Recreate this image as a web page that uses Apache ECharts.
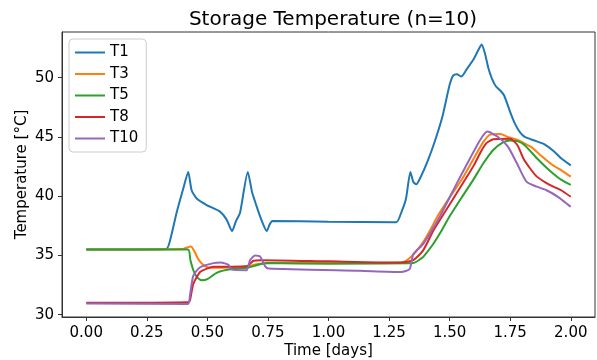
<!DOCTYPE html>
<html>
<head>
<meta charset="utf-8">
<script src="https://cdn.jsdelivr.net/npm/echarts@6/dist/echarts.min.js"></script>
<style>
  html, body { margin: 0; padding: 0; background: #fff; }
  #chart { width: 597px; height: 360px; }
</style>
</head>
<body>
<div id="chart"></div>
<script>
// data
var t1Time = [0, 0.33, 0.35, 0.373, 0.40, 0.421, 0.435, 0.456, 0.497, 0.552, 0.58, 0.602, 0.618, 0.635, 0.667, 0.685, 0.704, 0.725, 0.745, 0.757, 0.768, 1.0, 1.28, 1.30, 1.32, 1.338, 1.35, 1.362, 1.38, 1.41, 1.44, 1.47, 1.50, 1.515, 1.53, 1.548, 1.57, 1.60, 1.62, 1.632, 1.645, 1.66, 1.675, 1.69, 1.71, 1.725, 1.75, 1.77, 1.79, 1.81, 1.85, 1.89, 1.93, 1.96, 2.0];
var t1Temp = [35.5, 35.55, 36.6, 38.6, 40.6, 42.05, 40.5, 39.8, 39.25, 38.7, 38.0, 37.05, 37.9, 38.6, 42.05, 40.3, 39.1, 37.9, 37.05, 37.6, 37.9, 37.85, 37.8, 38.6, 39.8, 42.05, 41.2, 41.0, 41.6, 43.0, 44.7, 46.7, 49.4, 50.2, 50.3, 50.1, 50.7, 51.6, 52.4, 52.8, 52.1, 50.8, 49.9, 49.3, 48.9, 48.5, 47.1, 46.1, 45.4, 45.0, 44.7, 44.4, 43.8, 43.2, 42.6];

var t3Time = [0, 0.40, 0.42, 0.432, 0.445, 0.465, 0.49, 0.52, 0.56, 0.6, 0.65, 0.67, 0.69, 0.72, 0.75, 1.0, 1.3, 1.33, 1.36, 1.39, 1.419, 1.45, 1.5, 1.55, 1.6, 1.64, 1.667, 1.71, 1.74, 1.78, 1.804, 1.84, 1.873, 1.92, 1.96, 2.0];
var t3Temp = [35.5, 35.55, 35.7, 35.75, 35.4, 34.6, 34.1, 33.95, 33.95, 34.0, 34.0, 34.05, 34.2, 34.3, 34.35, 34.35, 34.4, 34.7, 35.3, 36.1, 37.1, 38.3, 39.9, 41.4, 43.2, 44.6, 45.2, 45.25, 45.0, 44.75, 44.5, 44.1, 43.5, 42.7, 42.2, 41.65];

var t5Time = [0, 0.42, 0.43, 0.445, 0.46, 0.478, 0.5, 0.54, 0.6, 0.665, 0.7, 0.745, 1.0, 1.35, 1.38, 1.392, 1.43, 1.467, 1.5, 1.55, 1.598, 1.64, 1.68, 1.72, 1.75, 1.78, 1.81, 1.86, 1.9, 1.928, 1.96, 2.0];
var t5Temp = [35.5, 35.5, 34.6, 33.6, 33.1, 32.9, 33.0, 33.55, 33.85, 33.95, 34.15, 34.35, 34.3, 34.35, 34.7, 34.9, 35.9, 37.1, 38.3, 39.9, 41.4, 42.8, 43.9, 44.55, 44.7, 44.65, 44.3, 43.2, 42.4, 41.9, 41.4, 40.95];

var t8Time = [0, 0.42, 0.428, 0.442, 0.47, 0.5, 0.525, 0.6, 0.665, 0.69, 0.72, 1.0, 1.3, 1.35, 1.39, 1.433, 1.5, 1.564, 1.6, 1.63, 1.653, 1.68, 1.75, 1.78, 1.804, 1.83, 1.86, 1.9, 1.928, 1.96, 2.0];
var t8Temp = [31.0, 31.05, 31.2, 32.6, 33.6, 33.9, 34.05, 34.05, 34.1, 34.55, 34.6, 34.5, 34.4, 34.6, 35.4, 37.1, 39.3, 41.4, 42.6, 43.8, 44.5, 44.8, 44.85, 44.3, 43.2, 42.4, 41.65, 41.1, 40.8, 40.5, 39.95];

var t10Time = [0, 0.42, 0.428, 0.442, 0.47, 0.525, 0.555, 0.587, 0.6, 0.662, 0.676, 0.697, 0.718, 0.738, 0.752, 1.13, 1.3, 1.335, 1.35, 1.392, 1.46, 1.53, 1.57, 1.626, 1.656, 1.7, 1.74, 1.777, 1.818, 1.86, 1.90, 1.95, 2.0];
var t10Temp = [30.95, 30.9, 31.6, 33.3, 34.0, 34.35, 34.4, 34.2, 33.8, 33.75, 34.6, 35.0, 34.9, 34.1, 33.9, 33.7, 33.6, 33.85, 35.1, 36.0, 38.3, 41.1, 42.65, 44.75, 45.45, 45.0, 44.2, 42.8, 41.2, 40.8, 40.5, 39.9, 39.1];

var xTicks = [0, 0.25, 0.5, 0.75, 1.0, 1.25, 1.5, 1.75, 2.0];
var yTicks = [30, 35, 40, 45, 50];

var names = ['T1', 'T3', 'T5', 'T8', 'T10'];
var colors = ['#1f77b4', '#ff7f0e', '#2ca02c', '#d62728', '#9467bd'];

var pairs = function(xs, ys) {
	var out = [];
	for (var i = 0; i < xs.length; i++) {
		out.push([xs[i], ys[i]]);
	}
	return out;
};

var allData = [
	pairs(t1Time, t1Temp),
	pairs(t3Time, t3Temp),
	pairs(t5Time, t5Temp),
	pairs(t8Time, t8Temp),
	pairs(t10Time, t10Temp)
];

var font = 'DejaVu Sans';
var seriesList = [];
for (var i = 0; i < names.length; i++) {
	seriesList.push({
		name: names[i],
		type: 'line',
		symbol: 'none',
		smooth: 0.2,
		lineStyle: { color: colors[i], width: 2 },
		itemStyle: { color: colors[i] },
		data: allData[i]
	});
}

var myChart = echarts.init(document.getElementById('chart'));
myChart.setOption({
	animation: false,
	textStyle: { fontFamily: font },
	title: {
		text: 'Storage Temperature (n=10)',
		left: 328,
		textAlign: 'center',
		top: 5,
		textStyle: { fontFamily: font, fontSize: 20, fontWeight: 'normal', color: '#000' }
	},
	legend: {
		orient: 'vertical',
		left: 69,
		top: 39,
		icon: 'rect',
		itemWidth: 30,
		itemHeight: 2,
		itemGap: 6.5,
		itemTextGap: 10,
		padding: [6, 8, 6, 6],
		borderColor: '#cccccc',
		borderWidth: 1,
		borderRadius: 4,
		backgroundColor: 'rgba(255,255,255,0.8)',
		textStyle: { fontFamily: font, fontSize: 15, lineHeight: 15, color: '#000' },
		data: names
	},
	grid: {
		left: 62,
		right: 2,
		top: 32,
		bottom: 43,
		outerBoundsMode: 'none',
		show: true,
		borderColor: '#333',
		borderWidth: 1
	},
	xAxis: {
		type: 'value',
		min: -0.1,
		max: 2.1,
		name: 'Time [days]',
		nameLocation: 'middle',
		nameGap: 27,
		nameMoveOverlap: false,
		nameTextStyle: { fontFamily: font, fontSize: 15, color: '#000' },
		axisLine: { onZero: false, lineStyle: { color: '#333' } },
		axisTick: { show: true, length: 4, customValues: xTicks, lineStyle: { color: '#333' } },
		axisLabel: {
			customValues: xTicks,
			fontSize: 15,
			color: '#000',
			margin: 9,
			formatter: function(v) { return v.toFixed(2); }
		},
		splitLine: { show: false }
	},
	yAxis: {
		type: 'value',
		min: 29.8,
		max: 53.86,
		name: 'Temperature [°C]',
		nameLocation: 'middle',
		nameGap: 32,
		nameMoveOverlap: false,
		nameTextStyle: { fontFamily: font, fontSize: 15, color: '#000' },
		axisLine: { show: true, onZero: false, lineStyle: { color: '#333' } },
		axisTick: { show: true, length: 4, customValues: yTicks, lineStyle: { color: '#333' } },
		axisLabel: {
			customValues: yTicks,
			fontSize: 15,
			color: '#000',
			margin: 8
		},
		splitLine: { show: false }
	},
	series: seriesList
});
</script>
</body>
</html>
